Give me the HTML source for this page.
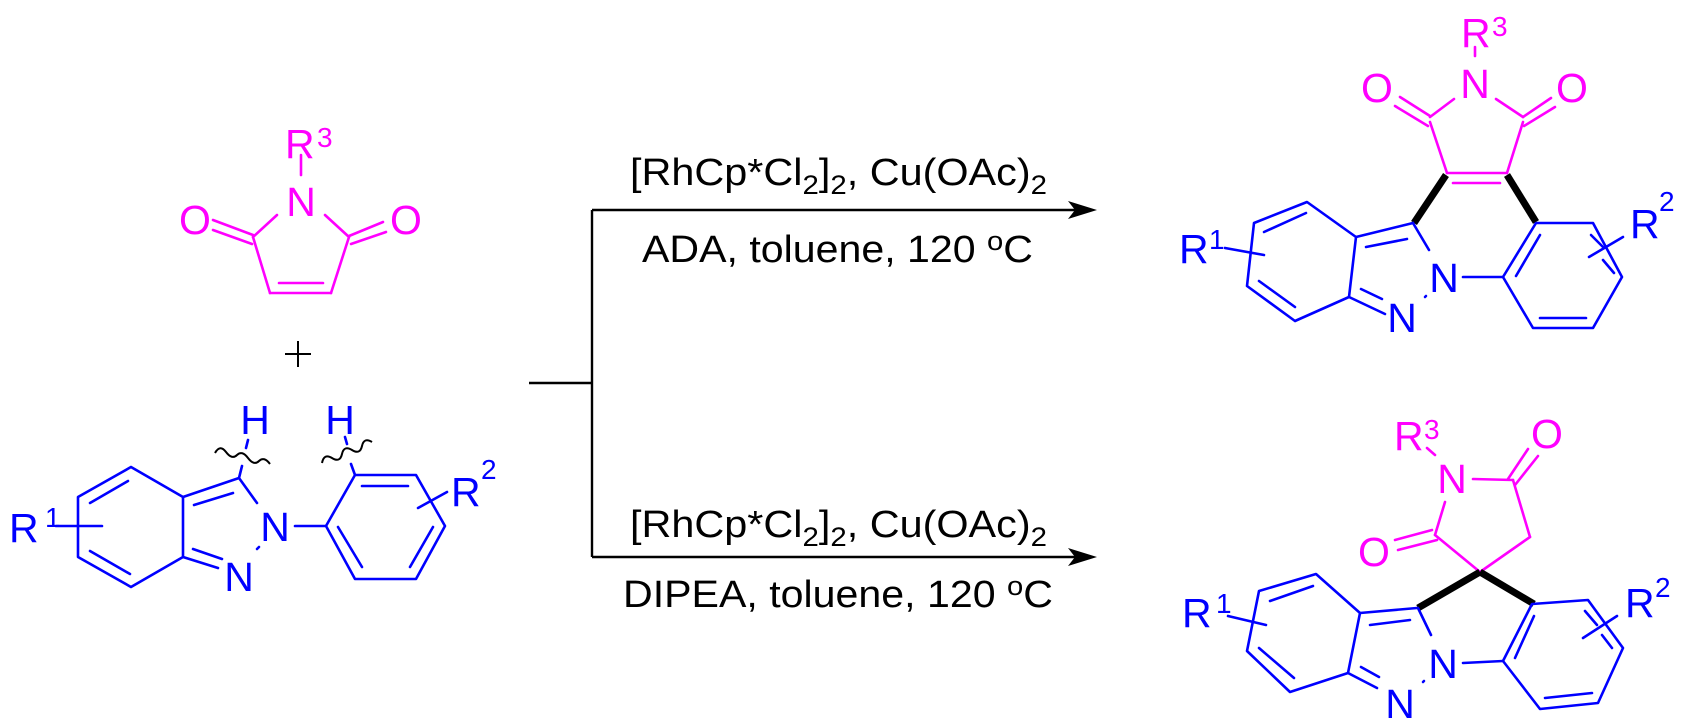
<!DOCTYPE html>
<html><head><meta charset="utf-8"><style>
html,body{margin:0;padding:0;background:#fff;}
svg{display:block;}
text{font-family:"Liberation Sans",Arial,sans-serif;}
</style></head><body>
<svg width="1686" height="725" viewBox="0 0 1686 725" xmlns="http://www.w3.org/2000/svg">
<!-- ===== Maleimide reactant (magenta) ===== -->
<g stroke="#ff00ff" stroke-width="2.6" fill="none" stroke-linecap="round">
<line x1="301" y1="155" x2="301" y2="175"/>
<line x1="277" y1="215" x2="253" y2="237"/>
<line x1="325" y1="215" x2="349" y2="237"/>
<line x1="213" y1="220" x2="253" y2="235"/>
<line x1="213" y1="230" x2="252" y2="244"/>
<line x1="349" y1="236" x2="383" y2="222"/>
<line x1="351" y1="244" x2="386" y2="232"/>
<line x1="253" y1="237" x2="270" y2="293"/>
<line x1="349" y1="237" x2="331" y2="293"/>
<line x1="270" y1="293" x2="331" y2="293"/>
<line x1="279" y1="283" x2="323" y2="283"/>
</g>
<g fill="#ff00ff" font-size="41">
<text x="285" y="158">R</text><text x="317" y="147" font-size="28">3</text>
<text x="301" y="216" text-anchor="middle">N</text>
<text x="195" y="234" text-anchor="middle">O</text>
<text x="406" y="234" text-anchor="middle">O</text>
</g>
<!-- plus -->
<g stroke="#000" stroke-width="2"><line x1="285" y1="354" x2="311" y2="354"/><line x1="298" y1="341" x2="298" y2="367"/></g>

<!-- ===== Indazole reactant (blue) ===== -->
<g stroke="#0000ff" stroke-width="2.6" fill="none" stroke-linecap="round" stroke-linejoin="round">
<polyline points="183,497 131,467 78,497 78,557 131,587 183,557 183,497"/>
<line x1="90" y1="503" x2="128" y2="481"/>
<line x1="90" y1="551" x2="130" y2="574"/>
<line x1="56" y1="526" x2="102" y2="526"/>
<line x1="183" y1="497" x2="239" y2="478"/>
<line x1="194" y1="505" x2="233" y2="493"/>
<line x1="239" y1="478" x2="257" y2="503"/>
<line x1="183" y1="557" x2="218" y2="568"/>
<line x1="193" y1="549" x2="222" y2="559"/>
<line x1="257" y1="549" x2="259" y2="547"/>
<line x1="295" y1="526" x2="326" y2="526"/>
<polygon points="326,526 355,475 416,475 445,526 416,579 355,579"/>
<line x1="362" y1="486" x2="408" y2="486"/>
<line x1="338" y1="527" x2="362" y2="567"/>
<line x1="433" y1="527" x2="410" y2="567"/>
<line x1="418" y1="508" x2="447" y2="492"/>
<line x1="239" y1="478" x2="242" y2="466"/>
<line x1="248" y1="440" x2="246" y2="448"/>
<line x1="355" y1="475" x2="351" y2="464"/>
<line x1="345" y1="437" x2="347" y2="444"/>
</g>
<g stroke="#000" stroke-width="2" fill="none">
<path d="M215,453 q5,-9 11,-1 t11,3 t11,3 t11,3 t11,3"/>
<path d="M322,463 q2,-10 10,-5 t10,-4 t10,-4 t10,-4 t10,-4"/>
</g>
<g fill="#0000ff" font-size="41">
<text x="9" y="542">R</text><text x="45" y="527" font-size="28">1</text>
<text x="275" y="541" text-anchor="middle">N</text>
<text x="239" y="591" text-anchor="middle">N</text>
<text x="255" y="434" text-anchor="middle">H</text>
<text x="340" y="434" text-anchor="middle">H</text>
<text x="451" y="506">R</text><text x="481" y="479" font-size="28">2</text>
</g>

<!-- ===== Arrows ===== -->
<g stroke="#000" stroke-width="2.4" fill="none">
<line x1="529" y1="383" x2="592" y2="383"/>
<line x1="592" y1="210" x2="592" y2="557"/>
<line x1="592" y1="210" x2="1080" y2="210"/>
<line x1="592" y1="557" x2="1080" y2="557"/>
</g>
<polygon points="1097,210 1068,201 1075,210 1068,219" fill="#000"/>
<polygon points="1097,557 1068,548 1075,557 1068,566" fill="#000"/>
<g fill="#000" font-size="38">
<text x="630" y="185" textLength="417" lengthAdjust="spacingAndGlyphs">[RhCp*Cl<tspan font-size="27" dy="9">2</tspan><tspan dy="-9">]</tspan><tspan font-size="27" dy="9">2</tspan><tspan dy="-9">, Cu(OAc)</tspan><tspan font-size="27" dy="9">2</tspan></text>
<text x="642" y="262" textLength="391" lengthAdjust="spacingAndGlyphs">ADA, toluene, 120 <tspan font-size="27" dy="-12">o</tspan><tspan dy="12">C</tspan></text>
<text x="630" y="537" textLength="417" lengthAdjust="spacingAndGlyphs">[RhCp*Cl<tspan font-size="27" dy="9">2</tspan><tspan dy="-9">]</tspan><tspan font-size="27" dy="9">2</tspan><tspan dy="-9">, Cu(OAc)</tspan><tspan font-size="27" dy="9">2</tspan></text>
<text x="623" y="607" textLength="430" lengthAdjust="spacingAndGlyphs">DIPEA, toluene, 120 <tspan font-size="27" dy="-12">o</tspan><tspan dy="12">C</tspan></text>
</g>

<!-- ===== Top product ===== -->
<g stroke="#ff00ff" stroke-width="2.6" fill="none" stroke-linecap="round">
<line x1="1475" y1="47" x2="1475" y2="56"/>
<line x1="1454" y1="99" x2="1430" y2="117"/>
<line x1="1496" y1="99" x2="1523" y2="117"/>
<line x1="1400" y1="97" x2="1430" y2="116"/>
<line x1="1395" y1="106" x2="1428" y2="126"/>
<line x1="1523" y1="117" x2="1551" y2="98"/>
<line x1="1524" y1="126" x2="1555" y2="107"/>
<line x1="1430" y1="122" x2="1447" y2="173"/>
<line x1="1523" y1="122" x2="1507" y2="173"/>
<line x1="1447" y1="173" x2="1507" y2="173"/>
<line x1="1453" y1="183" x2="1500" y2="183"/>
</g>
<g stroke="#000" stroke-width="7" stroke-linecap="butt">
<line x1="1446" y1="175" x2="1414" y2="223"/>
<line x1="1507" y1="175" x2="1536" y2="222"/>
</g>
<g stroke="#0000ff" stroke-width="2.6" fill="none" stroke-linecap="round" stroke-linejoin="round">
<polyline points="1356,237 1307,202 1254,223 1247,286 1295,321 1349,297 1356,237"/>
<line x1="1264" y1="232" x2="1306" y2="213"/>
<line x1="1259" y1="281" x2="1295" y2="307"/>
<line x1="1225" y1="248" x2="1264" y2="255"/>
<line x1="1356" y1="237" x2="1413" y2="223"/>
<line x1="1366" y1="247" x2="1407" y2="239"/>
<line x1="1413" y1="223" x2="1429" y2="250"/>
<line x1="1349" y1="297" x2="1385" y2="314"/>
<line x1="1361" y1="289" x2="1382" y2="299"/>
<line x1="1425" y1="297" x2="1426" y2="296"/>
<line x1="1463" y1="277" x2="1503" y2="277"/>
<polygon points="1536,223 1593,223 1622,277 1593,328 1533,328 1503,277"/>
<line x1="1540" y1="235" x2="1516" y2="276"/>
<line x1="1540" y1="318" x2="1586" y2="318"/>
<line x1="1591" y1="235" x2="1604" y2="248"/>
<line x1="1603" y1="260" x2="1614" y2="273"/>
<line x1="1589" y1="257" x2="1623" y2="237"/>
</g>
<g fill="#ff00ff" font-size="41">
<text x="1461" y="47">R</text><text x="1492" y="36" font-size="28">3</text>
<text x="1475" y="98" text-anchor="middle">N</text>
<text x="1377" y="102" text-anchor="middle">O</text>
<text x="1572" y="102" text-anchor="middle">O</text>
</g>
<g fill="#0000ff" font-size="41">
<text x="1179" y="263">R</text><text x="1209" y="249" font-size="28">1</text>
<text x="1444" y="292" text-anchor="middle">N</text>
<text x="1402" y="332" text-anchor="middle">N</text>
<text x="1630" y="238">R</text><text x="1659" y="211" font-size="28">2</text>
</g>

<!-- ===== Bottom product ===== -->
<g stroke="#ff00ff" stroke-width="2.6" fill="none" stroke-linecap="round">
<line x1="1427" y1="448" x2="1435" y2="455"/>
<line x1="1473" y1="479" x2="1513" y2="480"/>
<line x1="1508" y1="479" x2="1528" y2="449"/>
<line x1="1515" y1="485" x2="1538" y2="456"/>
<line x1="1513" y1="480" x2="1530" y2="537"/>
<line x1="1530" y1="537" x2="1480" y2="572"/>
<line x1="1445" y1="502" x2="1435" y2="535"/>
<line x1="1435" y1="535" x2="1480" y2="572"/>
<line x1="1395" y1="540" x2="1432" y2="530"/>
<line x1="1398" y1="550" x2="1437" y2="540"/>
</g>
<g stroke="#000" stroke-width="7" stroke-linecap="butt">
<line x1="1480" y1="572" x2="1418" y2="608"/>
<line x1="1480" y1="572" x2="1534" y2="604"/>
</g>
<g stroke="#0000ff" stroke-width="2.6" fill="none" stroke-linecap="round" stroke-linejoin="round">
<polyline points="1360,613 1316,574 1259,591 1247,651 1290,692 1348,673 1360,613"/>
<line x1="1270" y1="601" x2="1313" y2="586"/>
<line x1="1259" y1="648" x2="1294" y2="678"/>
<line x1="1228" y1="616" x2="1266" y2="625"/>
<line x1="1360" y1="613" x2="1417" y2="608"/>
<line x1="1370" y1="625" x2="1410" y2="620"/>
<line x1="1418" y1="608" x2="1431" y2="635"/>
<line x1="1348" y1="673" x2="1377" y2="688"/>
<line x1="1361" y1="667" x2="1379" y2="677"/>
<line x1="1423" y1="682" x2="1424" y2="681"/>
<line x1="1463" y1="663" x2="1503" y2="661"/>
<polygon points="1532,604 1588,600 1623,648 1598,703 1540,709 1503,661"/>
<line x1="1534" y1="616" x2="1515" y2="658"/>
<line x1="1545" y1="698" x2="1592" y2="693"/>
<line x1="1585" y1="611" x2="1597" y2="625"/>
<line x1="1602" y1="635" x2="1612" y2="648"/>
<line x1="1583" y1="638" x2="1617" y2="616"/>
</g>
<g fill="#ff00ff" font-size="41">
<text x="1394" y="450">R</text><text x="1424" y="439" font-size="28">3</text>
<text x="1452" y="493" text-anchor="middle">N</text>
<text x="1547" y="448" text-anchor="middle">O</text>
<text x="1374" y="566" text-anchor="middle">O</text>
</g>
<g fill="#0000ff" font-size="41">
<text x="1182" y="627">R</text><text x="1216" y="613" font-size="28">1</text>
<text x="1443" y="678" text-anchor="middle">N</text>
<text x="1400" y="718" text-anchor="middle">N</text>
<text x="1625" y="617">R</text><text x="1655" y="597" font-size="28">2</text>
</g>
</svg>
</body></html>
